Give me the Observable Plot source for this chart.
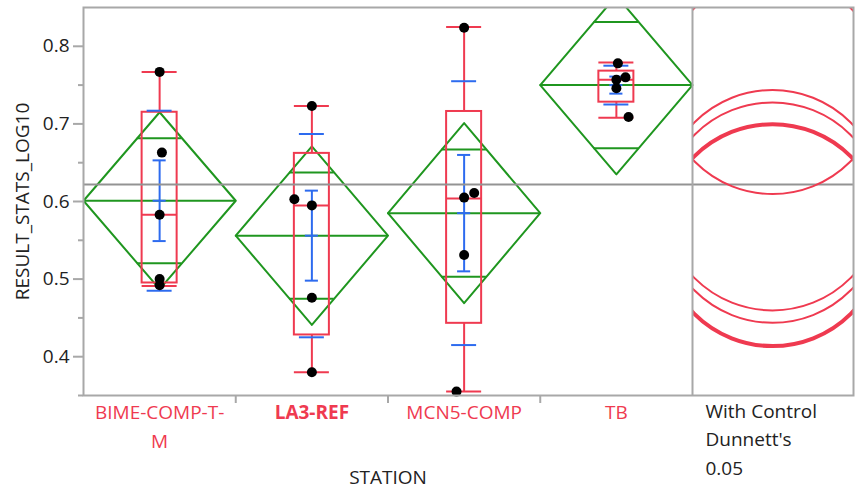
<!DOCTYPE html>
<html>
<head>
<meta charset="utf-8">
<script src="https://cdn.jsdelivr.net/npm/d3@7"></script>
<script src="https://cdn.jsdelivr.net/npm/@observablehq/plot@0.6"></script>
<style>
  html, body { margin: 0; padding: 0; background: #fff; }
  #chart { width: 861px; height: 495px; }
</style>
</head>
<body>
<div id="chart"></div>
<script>
// ---- data ----
const stations = ["BIME-COMP-T-M", "LA3-REF", "MCN5-COMP", "TB"];
const stationLabels = ["BIME-COMP-T-\nM", "LA3-REF", "MCN5-COMP", "TB"];
const controlStation = "LA3-REF";

// individual observations (station, value, horizontal jitter as fraction of band)
const obsStation = ["BIME-COMP-T-M","BIME-COMP-T-M","BIME-COMP-T-M","BIME-COMP-T-M","BIME-COMP-T-M",
                    "LA3-REF","LA3-REF","LA3-REF","LA3-REF","LA3-REF",
                    "MCN5-COMP","MCN5-COMP","MCN5-COMP","MCN5-COMP","MCN5-COMP",
                    "TB","TB","TB","TB","TB"];
const obsValue   = [0.767, 0.663, 0.583, 0.500, 0.492,
                    0.723, 0.603, 0.595, 0.476, 0.380,
                    0.824, 0.611, 0.605, 0.531, 0.355,
                    0.778, 0.760, 0.757, 0.746, 0.709];
const obsJitter  = [0, 0.015, 0, 0, 0,
                    0, -0.115, 0, 0, 0,
                    0, 0.066, 0, 0, -0.05,
                    0.01, 0.06, 0, 0, 0.08];

// summary statistics per station
const means      = [0.601, 0.556, 0.585, 0.750];
const ciHalf     = [0.114, 0.115, 0.116, 0.115];   // means-diamond half height
const stdDev     = [0.116, 0.131, 0.170, 0.025];
const stdErr     = [0.052, 0.058, 0.075, 0.011];
const q1         = [0.495, 0.428, 0.443, 0.728];
const medians    = [0.583, 0.595, 0.604, 0.757];
const q3         = [0.715, 0.662, 0.716, 0.768];
const whiskerLo  = [0.491, 0.380, 0.355, 0.708];
const whiskerHi  = [0.767, 0.723, 0.825, 0.779];
const circleRadius = [0.142, 0.143, 0.142, 0.141];  // Dunnett comparison circles
const grandMean  = 0.622;

const yTicks     = [0.4, 0.5, 0.6, 0.7, 0.8];
const yMinorTicks = [0.35, 0.45, 0.55, 0.65, 0.75];
const yLabel     = "RESULT_STATS_LOG10";
const xLabel     = "STATION";
const dunnettLabel = "With Control\nDunnett's\n0.05";

// ---- styling ----
const RED = "#EF3A50", GREEN = "#1F961F", BLUE = "#2D6BEF", GRAY = "#A8A8A8", MEANGRAY = "#939393";
const FS = 19;
const PANEL = 161 / 152.25;    // comparison-circle panel width in band units
const BOXW = 0.115, SEW = 0.043, SDW = 0.082;

// ---- derived tables ----
const stats = stations.map((s, i) => ({
  s, i, c: i + 0.5,
  mean: means[i], ci: ciHalf[i], sd: stdDev[i], se: stdErr[i],
  q1: q1[i], med: medians[i], q3: q3[i], lo: whiskerLo[i], hi: whiskerHi[i]
}));
const obs = obsValue.map((v, k) => ({
  x: stations.indexOf(obsStation[k]) + 0.5 + obsJitter[k], y: v
}));
const diamond = stats.flatMap(d => [
  {s: d.s, x: d.i,       y: d.mean},
  {s: d.s, x: d.c,       y: d.mean + d.ci},
  {s: d.s, x: d.i + 1,   y: d.mean},
  {s: d.s, x: d.c,       y: d.mean - d.ci},
  {s: d.s, x: d.i,       y: d.mean}
]);
const ovHalf = 0.5 * (1 - Math.SQRT1_2);
const overlap = stats.flatMap(d => [
  {c: d.c, y: d.mean + d.ci * Math.SQRT1_2},
  {c: d.c, y: d.mean - d.ci * Math.SQRT1_2}
]);

// comparison circles panel (custom render using the plot's scales)
function circlesMark(index, scales, values, dimensions) {
  const {x, y} = scales;
  const x0 = x(4), x1 = x(4 + PANEL);
  const y0 = dimensions.marginTop, y1 = dimensions.height - dimensions.marginBottom;
  const cx = (x0 + x1) / 2;
  const g = d3.create("svg:g");
  g.append("clipPath").attr("id", "dunnett-clip")
    .append("rect").attr("x", x0).attr("y", y0).attr("width", x1 - x0).attr("height", y1 - y0);
  const cg = g.append("g").attr("clip-path", "url(#dunnett-clip)");
  stations.forEach((s, i) => {
    const cy = y(means[i]);
    cg.append("circle")
      .attr("cx", cx).attr("cy", cy)
      .attr("r", y(means[i] - circleRadius[i]) - cy)
      .attr("fill", "none").attr("stroke", RED)
      .attr("stroke-width", s === controlStation ? 4 : 2);
  });
  return g.node();
}

const chart = Plot.plot({
  width: 861, height: 495,
  marginLeft: 83, marginRight: 8, marginTop: 7, marginBottom: 100,
  style: {fontFamily: "'Open Sans', 'Noto Sans', sans-serif", fontSize: FS + "px", color: "#222", background: "#fff"},
  x: {type: "linear", domain: [0, 4 + PANEL]},
  y: {domain: [0.35, 0.85]},
  marks: [
    // means diamonds
    Plot.line(diamond, {x: "x", y: "y", z: "s", stroke: GREEN, strokeWidth: 2, clip: true}),
    Plot.ruleY(stats, {y: "mean", x1: d => d.i, x2: d => d.i + 1, stroke: GREEN, strokeWidth: 2}),
    Plot.ruleY(overlap, {y: "y", x1: d => d.c - ovHalf, x2: d => d.c + ovHalf, stroke: GREEN, strokeWidth: 2, clip: true}),
    // box plots
    Plot.ruleX(stats, {x: "c", y1: "q3", y2: "hi", stroke: RED, strokeWidth: 2}),
    Plot.ruleX(stats, {x: "c", y1: "q1", y2: "lo", stroke: RED, strokeWidth: 2}),
    Plot.ruleY(stats, {y: "hi", x1: d => d.c - BOXW, x2: d => d.c + BOXW, stroke: RED, strokeWidth: 2}),
    Plot.ruleY(stats, {y: "lo", x1: d => d.c - BOXW, x2: d => d.c + BOXW, stroke: RED, strokeWidth: 2}),
    Plot.rect(stats, {x1: d => d.c - BOXW, x2: d => d.c + BOXW, y1: "q1", y2: "q3", fill: "none", stroke: RED, strokeWidth: 2}),
    Plot.ruleY(stats, {y: "med", x1: d => d.c - BOXW, x2: d => d.c + BOXW, stroke: RED, strokeWidth: 2}),
    // std dev lines and std error bars
    Plot.ruleY(stats, {y: d => d.mean + d.sd, x1: d => d.c - SDW, x2: d => d.c + SDW, stroke: BLUE, strokeWidth: 2}),
    Plot.ruleY(stats, {y: d => d.mean - d.sd, x1: d => d.c - SDW, x2: d => d.c + SDW, stroke: BLUE, strokeWidth: 2}),
    Plot.ruleX(stats, {x: "c", y1: d => d.mean - d.se, y2: d => d.mean + d.se, stroke: BLUE, strokeWidth: 2}),
    Plot.ruleY(stats, {y: d => d.mean + d.se, x1: d => d.c - SEW, x2: d => d.c + SEW, stroke: BLUE, strokeWidth: 2}),
    Plot.ruleY(stats, {y: d => d.mean - d.se, x1: d => d.c - SEW, x2: d => d.c + SEW, stroke: BLUE, strokeWidth: 2}),
    Plot.ruleY(stats, {y: "mean", x1: d => d.c - SEW, x2: d => d.c + SEW, stroke: BLUE, strokeWidth: 2}),
    // grand mean
    Plot.ruleY([grandMean], {stroke: MEANGRAY, strokeWidth: 2}),
    // points
    Plot.dot(obs, {x: "x", y: "y", r: 5, fill: "#000", stroke: "none"}),
    // comparison circles
    circlesMark,
    // frames
    Plot.frame({stroke: GRAY, strokeWidth: 2}),
    Plot.ruleX([4], {stroke: GRAY, strokeWidth: 2}),
    // axes
    Plot.axisY({ticks: yTicks, tickSize: 10, tickPadding: 4, tickFormat: d => d.toFixed(1),
                stroke: GRAY, strokeWidth: 2, fill: "#222", fontSize: FS, label: null}),
    Plot.axisY({ticks: yMinorTicks, tickSize: 5, stroke: GRAY, strokeWidth: 2, fill: "none", label: null}),
    Plot.axisX({ticks: [1, 2, 3], tickSize: 8, stroke: GRAY, strokeWidth: 2, fill: "none", label: null}),
    Plot.text(stats.filter(d => d.s !== controlStation), {x: "c", text: d => stationLabels[d.i], frameAnchor: "bottom",
                lineAnchor: "top", dy: 3, lineHeight: 1.53, fill: RED, fontSize: FS}),
    Plot.text(stats.filter(d => d.s === controlStation), {x: "c", text: d => stationLabels[d.i], frameAnchor: "bottom",
                lineAnchor: "top", dy: 3, lineHeight: 1.53, fill: RED, fontSize: FS, fontWeight: "bold"}),
    Plot.text([xLabel], {x: 2, frameAnchor: "bottom", lineAnchor: "top", dy: 75, fill: "#222", fontSize: FS}),
    Plot.text([dunnettLabel], {x: 4, frameAnchor: "bottom", textAnchor: "start", lineAnchor: "top",
                dx: 13, dy: 2, lineHeight: 1.5, fill: "#222", fontSize: FS}),
    Plot.text([yLabel], {frameAnchor: "left", textAnchor: "middle", lineAnchor: "middle", rotate: -90, dx: -61, fill: "#222", fontSize: FS})
  ]
});
document.getElementById("chart").append(chart);
</script>
</body>
</html>
